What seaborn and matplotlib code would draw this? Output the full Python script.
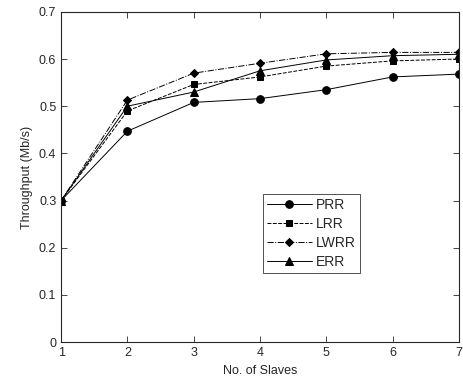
import matplotlib
matplotlib.use("Agg")
import matplotlib.pyplot as plt
import pandas as pd
import seaborn as sns

slaves = [1, 2, 3, 4, 5, 6, 7]
prr = [0.30, 0.447, 0.508, 0.516, 0.535, 0.562, 0.568]
lrr = [0.30, 0.490, 0.546, 0.562, 0.585, 0.596, 0.600]
lwrr = [0.30, 0.513, 0.570, 0.591, 0.611, 0.614, 0.614]
err = [0.30, 0.500, 0.530, 0.575, 0.598, 0.607, 0.610]

series = {"PRR": prr, "LRR": lrr, "LWRR": lwrr, "ERR": err}
markers = {"PRR": "o", "LRR": "s", "LWRR": "D", "ERR": "^"}
msizes = {"PRR": 5.5, "LRR": 5, "LWRR": 4, "ERR": 5.5}
styles = {"PRR": "-", "LRR": (0, (4, 1.5)), "LWRR": "-.", "ERR": "-"}

rows = []
for name, vals in series.items():
    for x, y in zip(slaves, vals):
        rows.append({"slaves": x, "throughput": y, "scheme": name})
df = pd.DataFrame(rows)

sns.set_style("ticks")
plt.rcParams["font.family"] = ["Liberation Sans", "DejaVu Sans"]

fig = plt.figure(figsize=(4.63, 3.81), dpi=100)
ax = fig.add_axes([0.132, 0.102, 0.859, 0.867])

for name in series:
    sub = df[df["scheme"] == name]
    sns.lineplot(data=sub, x="slaves", y="throughput", ax=ax, color="black",
                 linewidth=0.7, linestyle=styles[name], marker=markers[name],
                 markersize=msizes[name], markeredgecolor="black", label=name)

ax.set_xlim(1, 7)
ax.set_ylim(0, 0.7)
ax.set_xticks(slaves)
ax.set_yticks([0, 0.1, 0.2, 0.3, 0.4, 0.5, 0.6, 0.7])
ax.set_yticklabels(["0", "0.1", "0.2", "0.3", "0.4", "0.5", "0.6", "0.7"])
ax.tick_params(direction="in", top=True, right=True, length=4, labelsize=9, width=0.6)
for sp in ax.spines.values():
    sp.set_linewidth(0.8)
ax.set_xlabel("No. of Slaves", fontsize=9)
ax.set_ylabel("Throughput (Mb/s)", fontsize=9)

leg = ax.legend(loc="upper left", bbox_to_anchor=(0.49, 0.47), frameon=True,
                fancybox=False, edgecolor="black", fontsize=10, handlelength=3.2,
                borderpad=0.3, labelspacing=0.35, handletextpad=0.3)
leg.get_frame().set_linewidth(0.6)

fig.savefig("out.png", dpi=100)
